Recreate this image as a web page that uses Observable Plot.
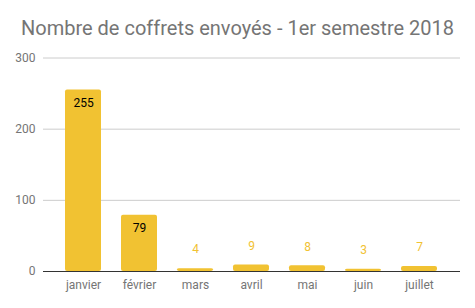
<!DOCTYPE html>
<html>
<head>
<meta charset="utf-8">
<script src="https://cdn.jsdelivr.net/npm/d3@7"></script>
<script src="https://cdn.jsdelivr.net/npm/@observablehq/plot@0.6"></script>
<style>
  body { margin: 0; background: #fff; font-family: Roboto, sans-serif; }
  #title { height: 45px; width: 475px; text-align: center; font-size: 20px; color: #757575; line-height: 20px; box-sizing: border-box; position: relative; }
  #title span { position: absolute; left: 0; right: 0; top: 18px; }
</style>
</head>
<body>
<div id="title"><span>Nombre de coffrets envoyés - 1er semestre 2018</span></div>
<div id="chart"></div>
<script>
const months = ["janvier", "février", "mars", "avril", "mai", "juin", "juillet"];
const counts = [255, 79, 4, 9, 8, 3, 7];
const yTicks = [0, 100, 200, 300];

const data = months.map((m, i) => ({month: m, count: counts[i]}));
const gold = "#f1c232";
const axisGray = "#757575";

const chart = Plot.plot({
  width: 475,
  height: 263,
  marginLeft: 43,
  marginRight: 15,
  marginTop: 12.5,
  marginBottom: 37,
  style: {fontFamily: "Roboto, sans-serif", fontSize: "12px", color: axisGray, background: "#fff"},
  x: {domain: months, padding: 0.35, label: null},
  y: {domain: [0, 300], label: null},
  marks: [
    Plot.gridY(yTicks.filter(t => t > 0), {stroke: "#cccccc", strokeOpacity: 1}),
    Plot.barY(data, {x: "month", y: "count", fill: gold, rx: 2}),
    Plot.ruleY([0], {stroke: "#333333", strokeWidth: 1}),
    Plot.axisY(yTicks, {tickSize: 0, tickPadding: 8, fill: axisGray, label: null}),
    Plot.axisX(months, {tickSize: 0, tickPadding: 9, fill: axisGray, label: null}),
    Plot.text(data.filter(d => d.count >= 50), {x: "month", y: "count", text: d => String(d.count), dy: 13, fill: "#000", fontSize: 12}),
    Plot.text(data.filter(d => d.count < 50), {x: "month", y: "count", text: d => String(d.count), dy: -19, fill: gold, fontSize: 12})
  ]
});
document.getElementById("chart").appendChild(chart);
</script>
</body>
</html>
